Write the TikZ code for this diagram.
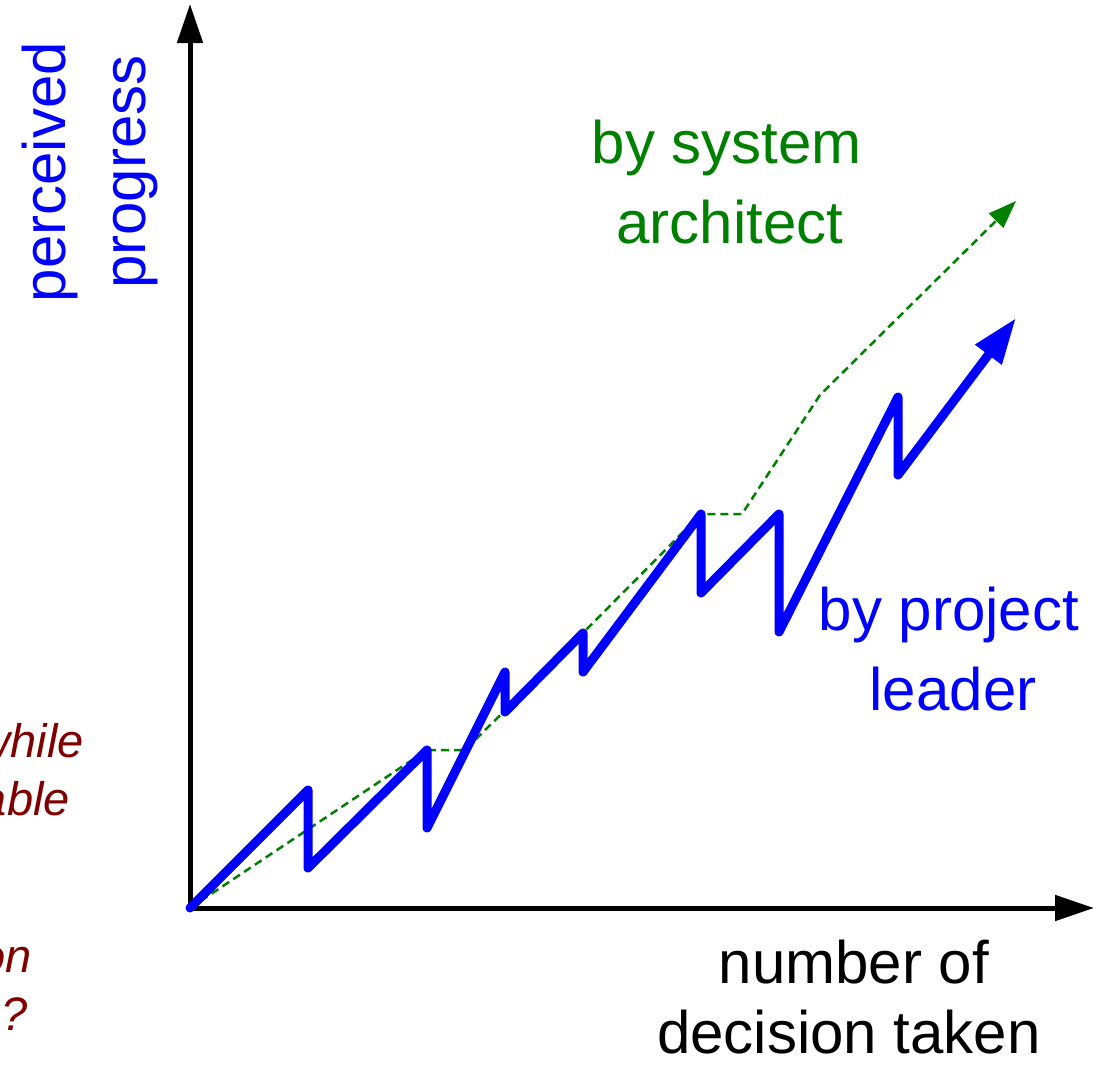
\documentclass[tikz,border=0pt]{standalone}
\usepackage{fontspec}
\setmainfont{Liberation Sans}
\usetikzlibrary{arrows.meta}
\definecolor{archgreen}{RGB}{0,128,0}
\definecolor{noteRed}{RGB}{128,0,0}
\begin{document}
\begin{tikzpicture}[x=1pt,y=-1pt,
  axis/.style={black,line width=5pt,-{Triangle[length=39pt,width=25pt]}},
  leaderpath/.style={blue,line width=9pt,line join=round,line cap=round,-{Triangle[length=46pt,width=31pt]}},
  archpath/.style={archgreen,line width=2.5pt,line join=round,dash pattern=on 8pt off 5pt,-{Triangle[length=28pt,width=20pt]}},
  big/.style={font=\fontsize{60}{72}\selectfont,inner sep=0pt,anchor=base},
  note/.style={noteRed,font=\fontsize{47}{56}\selectfont\itshape,inner sep=0pt,anchor=base east}]
\useasboundingbox (0,0) rectangle (1100,1068);
% axes
\coordinate (O) at (190,908);
\coordinate (ytip) at (190,4);
\coordinate (xtip) at (1094,908);
\draw[axis] (O) -- (ytip);
\draw[axis] (O) -- (xtip);
% architect's view
\coordinate (g1) at (427,750);
\coordinate (g2) at (465,750);
\coordinate (g3) at (583,633);
\coordinate (g4) at (701,514);
\coordinate (g5) at (742,514);
\coordinate (g6) at (820,395);
\coordinate (gtip) at (1016,201);
\draw[archpath] (O) -- (g1) -- (g2) -- (g3) -- (g4) -- (g5) -- (g6) -- (gtip);
% project leader's view
\coordinate (b1) at (308,790);
\coordinate (b2) at (308,868);
\coordinate (b3) at (427,750);
\coordinate (b4) at (427,828);
\coordinate (b5) at (505,672);
\coordinate (b6) at (505,712);
\coordinate (b7) at (583,633);
\coordinate (b8) at (583,672);
\coordinate (b9) at (701,514);
\coordinate (b10) at (701,593);
\coordinate (b11) at (779,514);
\coordinate (b12) at (779,632);
\coordinate (b13) at (898,397);
\coordinate (b14) at (898,475);
\coordinate (btip) at (1016,318);
\draw[leaderpath] (O) -- (b1) -- (b2) -- (b3) -- (b4) -- (b5) -- (b6) -- (b7) -- (b8) -- (b9) -- (b10) -- (b11) -- (b12) -- (b13) -- (b14) -- (btip);
% labels
\node[big,blue,rotate=90] (yl1) at (65,172) {perceived};
\node[big,blue,rotate=90] (yl2) at (145,172) {progress};
\node[big,archgreen] (al1) at (727,163) {by system};
\node[big,archgreen] (al2) at (730,243) {architect};
\node[big,blue] (ll1) at (949,630) {by project};
\node[big,blue] (ll2) at (953,710) {leader};
\node[big] (xl1) at (854,983) {number of};
\node[big] (xl2) at (849,1053) {decision taken};
% cut-off notes on the left
\node[note] (n1) at (84,757) {while};
\node[note] (n2) at (70,815) {able};
\node[note] (n3) at (32,972) {on};
\node[note] (n4) at (28,1030) {?};
\end{tikzpicture}
\end{document}
